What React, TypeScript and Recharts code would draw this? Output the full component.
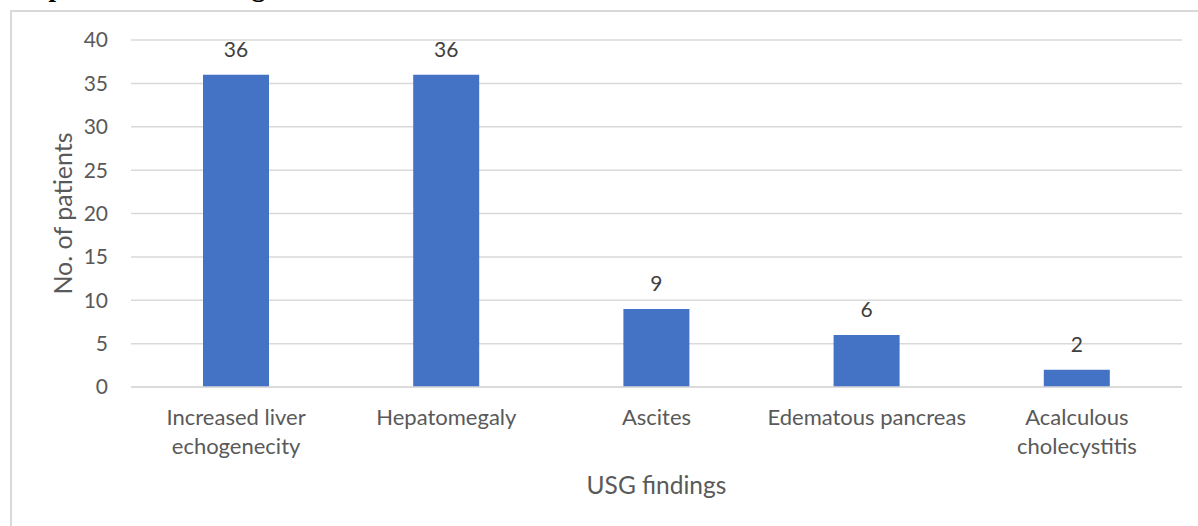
import React from "react";
import { BarChart, Bar, XAxis, YAxis, CartesianGrid, LabelList, Label } from "recharts";

const categories = ["Increased liver\nechogenecity", "Hepatomegaly", "Ascites", "Edematous pancreas", "Acalculous\ncholecystitis"];
const patients = [36, 36, 9, 6, 2];
const yTicks = [0, 5, 10, 15, 20, 25, 30, 35, 40];

const data = categories.map((c, i) => ({ name: c, value: patients[i] }));

const FONT = "Lato, 'Open Sans', sans-serif";
const TXT = "#595959";

const XTick = (props: any) => {
  const { x, y, payload } = props;
  const lines = String(payload.value).split("\n");
  return (
    <text x={x} y={y} textAnchor="middle" fill={TXT} fontFamily={FONT} fontSize={22}>
      {lines.map((l, i) => (
        <tspan key={i} x={x} y={y + 30 + i * 29}>{l}</tspan>
      ))}
    </text>
  );
};

export default function App() {
  return (
    <div style={{ position: "absolute", left: 0, top: 0, width: 1198, height: 526, overflow: "hidden", background: "#fff" }}>
      <div style={{ position: "absolute", left: 2, top: -28, fontFamily: "'Liberation Serif', 'Times New Roman', serif", fontWeight: "bold", fontSize: 27, lineHeight: "30px", whiteSpace: "nowrap", color: "#000" }}>
        Graph II USG Findings
      </div>
      <div style={{ position: "absolute", left: 10, top: 10, width: 1200, height: 540, border: "2px solid #d9d9d9", boxSizing: "border-box" }} />
      <div style={{ position: "absolute", left: 0, top: 0 }}>
        <BarChart width={1198} height={526} data={data} margin={{ top: 40, right: 16, bottom: 0, left: 0 }}>
          <CartesianGrid vertical={false} stroke="#d9d9d9" strokeWidth={1.5} />
          <XAxis
            dataKey="name"
            axisLine={{ stroke: "#d9d9d9", strokeWidth: 1.5 }}
            tickLine={false}
            tick={<XTick />}
            interval={0}
            height={139}
          >
            <Label
              content={(p: any) => {
                const vb = p.viewBox;
                return (
                  <text x={vb.x + vb.width / 2} y={494} textAnchor="middle" fill={TXT} fontFamily={FONT} fontSize={24.5}>
                    USG findings
                  </text>
                );
              }}
            />
          </XAxis>
          <YAxis
            width={131}
            domain={[0, 40]}
            ticks={yTicks}
            interval={0}
            axisLine={false}
            tickLine={false}
            tickSize={0}
            tickMargin={23}
            tick={{ fill: TXT, fontFamily: FONT, fontSize: 21 }}
          >
            <Label
              content={(p: any) => {
                const vb = p.viewBox;
                const cy = vb.y + vb.height / 2;
                return (
                  <text x={62} y={cy} transform={`rotate(-90, 62, ${cy})`} textAnchor="middle" dominantBaseline="central" fill={TXT} fontFamily={FONT} fontSize={25}>
                    No. of patients
                  </text>
                );
              }}
            />
          </YAxis>
          <Bar dataKey="value" fill="#4472C4" isAnimationActive={false} barSize={66}>
            <LabelList dataKey="value" position="top" offset={18} fill="#404040" fontFamily={FONT} fontSize={21} />
          </Bar>
        </BarChart>
      </div>
    </div>
  );
}
